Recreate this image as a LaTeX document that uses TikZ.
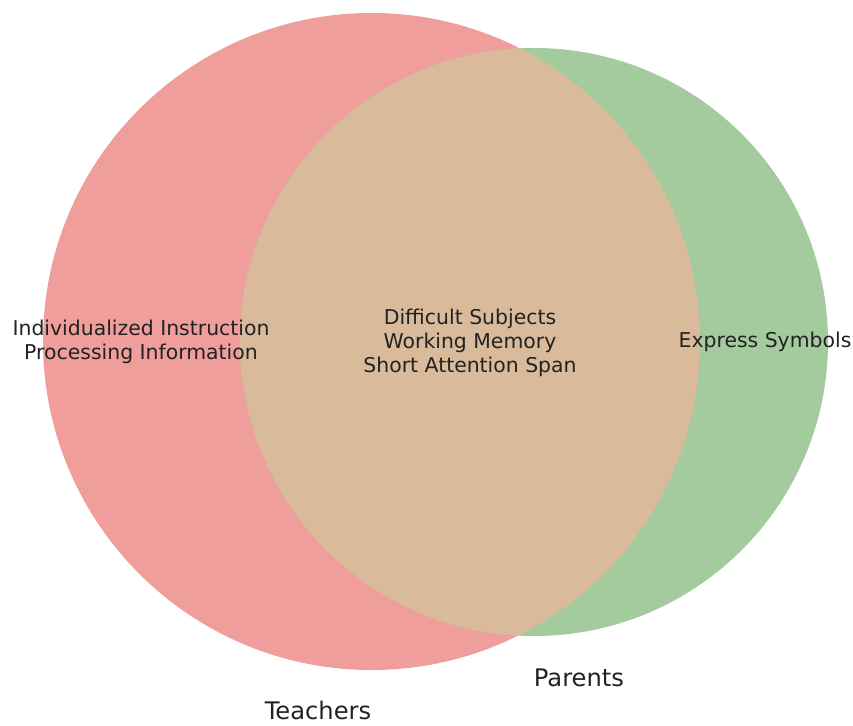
\documentclass[tikz,border=0pt]{standalone}
\usepackage{fontspec}
\setmainfont{DejaVu Sans}
\definecolor{redc}{HTML}{F09E9B}
\definecolor{greenc}{HTML}{A4CB9D}
\definecolor{bothc}{HTML}{D9BB9B}
\definecolor{txt}{HTML}{222222}
\begin{document}
\begin{tikzpicture}[x=1pt,y=-1pt,
  lbl/.style={text=txt,font=\fontsize{20.4}{24}\selectfont,align=center,inner sep=0pt},
  setlbl/.style={text=txt,font=\fontsize{24.2}{28}\selectfont,inner sep=0pt}]
\useasboundingbox (0,0) rectangle (853,725);
\fill[redc] (371.5,341.5) circle (328.5);
\fill[greenc] (534,342) circle (294);
\begin{scope}
\clip (371.5,341.5) circle (328.5);
\fill[bothc] (534,342) circle (294);
\end{scope}
\node[lbl] (a) at (141,342) {Individualized Instruction\\Processing Information};
\node[lbl] (ab) at (470,342.5) {Difficult Subjects\\Working Memory\\Short Attention Span};
\node[lbl] (b) at (765,342) {Express Symbols};
\node[setlbl] (t) at (318,710) {Teachers};
\node[setlbl] (p) at (579,678) {Parents};
\end{tikzpicture}
\end{document}
